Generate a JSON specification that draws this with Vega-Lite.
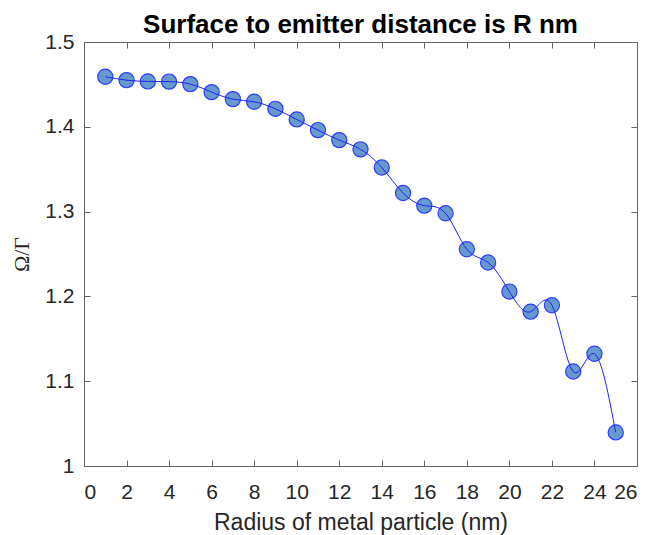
{
  "$schema": "https://vega.github.io/schema/vega-lite/v6.json",
  "autosize": "none",
  "width": 553,
  "height": 424,
  "padding": {"left": 84, "top": 42, "right": 15, "bottom": 69},
  "background": "white",
  "title": {
    "text": "Surface to emitter distance is R nm",
    "font": "Liberation Sans",
    "fontSize": 26,
    "fontWeight": "bold",
    "color": "#000000",
    "anchor": "middle",
    "frame": "group",
    "offset": -7
  },
  "config": {
    "view": {"stroke": null},
    "axis": {
      "labelFont": "Liberation Sans",
      "labelFontSize": 21,
      "labelColor": "#262626",
      "titleFont": "Liberation Sans",
      "titleFontSize": 23,
      "titleFontWeight": "normal",
      "titleColor": "#262626",
      "domainColor": "#666666",
      "domainWidth": 1,
      "tickColor": "#666666",
      "tickWidth": 1,
      "tickSize": -6,
      "grid": false
    }
  },
  "data": {
    "values": [
      {"r": 1, "v": 1.459},
      {"r": 2, "v": 1.455},
      {"r": 3, "v": 1.4535},
      {"r": 4, "v": 1.4533},
      {"r": 5, "v": 1.4503},
      {"r": 6, "v": 1.4409},
      {"r": 7, "v": 1.4326},
      {"r": 8, "v": 1.4295},
      {"r": 9, "v": 1.4212},
      {"r": 10, "v": 1.4087},
      {"r": 11, "v": 1.3961},
      {"r": 12, "v": 1.3843},
      {"r": 13, "v": 1.3734},
      {"r": 14, "v": 1.352},
      {"r": 15, "v": 1.322},
      {"r": 16, "v": 1.307},
      {"r": 17, "v": 1.298},
      {"r": 18, "v": 1.2556},
      {"r": 19, "v": 1.240},
      {"r": 20, "v": 1.2057},
      {"r": 21, "v": 1.182},
      {"r": 22, "v": 1.1896},
      {"r": 23, "v": 1.1114},
      {"r": 24, "v": 1.1323},
      {"r": 25, "v": 1.0396}
    ]
  },
  "layer": [
    {
      "encoding": {
        "x": {
          "field": "r",
          "type": "quantitative",
          "scale": {"domain": [0, 26], "nice": false, "zero": false},
          "axis": {
            "title": "Radius of metal particle (nm)",
            "values": [0, 2, 4, 6, 8, 10, 12, 14, 16, 18, 20, 22, 24, 26],
            "format": "d",
            "labelPadding": 21,
            "titlePadding": 9
          }
        },
        "y": {
          "field": "v",
          "type": "quantitative",
          "scale": {"domain": [1, 1.5], "nice": false, "zero": false},
          "axis": {
            "title": "Ω/Γ",
            "titleFont": "Liberation Serif",
            "titleFontSize": 22,
            "values": [1, 1.1, 1.2, 1.3, 1.4, 1.5],
            "format": ".1~f",
            "labelPadding": 16,
            "titlePadding": 11
          }
        }
      },
      "layer": [
        {
          "mark": {"type": "point", "shape": "circle", "filled": true, "size": 230, "fill": "#6699cc", "stroke": "#2a3cff", "strokeWidth": 1.2, "opacity": 1, "fillOpacity": 1}
        },
        {
          "mark": {"type": "line", "interpolate": "natural", "color": "#2020ff", "strokeWidth": 1}
        }
      ]
    },
    {
      "mark": {"type": "point", "opacity": 0},
      "encoding": {
        "x": {
          "field": "r",
          "type": "quantitative",
          "scale": {"domain": [0, 26], "nice": false, "zero": false},
          "axis": {"orient": "top", "title": null, "labels": false, "values": [0, 2, 4, 6, 8, 10, 12, 14, 16, 18, 20, 22, 24, 26]}
        },
        "y": {
          "field": "v",
          "type": "quantitative",
          "scale": {"domain": [1, 1.5], "nice": false, "zero": false},
          "axis": {"orient": "right", "title": null, "labels": false, "values": [1, 1.1, 1.2, 1.3, 1.4, 1.5]}
        }
      }
    }
  ],
  "resolve": {"axis": {"x": "independent", "y": "independent"}}
}
